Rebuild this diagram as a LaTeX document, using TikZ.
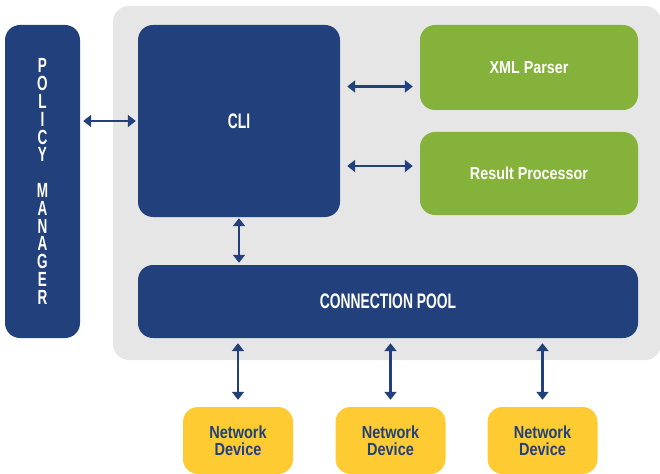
\documentclass[tikz,border=0pt]{standalone}
\usepackage{fontspec}
\usetikzlibrary{arrows.meta}
\newfontfamily\capfont[FakeStretch=0.66]{Liberation Sans}
\newfontfamily\lowfont[FakeStretch=0.83]{Liberation Sans}
\definecolor{navy}{RGB}{34,65,124}
\definecolor{leaf}{RGB}{133,178,58}
\definecolor{sun}{RGB}{254,204,50}
\definecolor{panel}{RGB}{230,230,230}
\begin{document}
\begin{tikzpicture}[x=1pt, y=-1pt,
		box/.style={rounded corners=15pt, inner sep=0pt},
		bluebox/.style={box, fill=navy, text=white, font=\capfont\bfseries\fontsize{21}{22}\selectfont},
		greenbox/.style={box, fill=leaf, text=white, font=\lowfont\bfseries\fontsize{17.3}{18}\selectfont},
		devbox/.style={box, fill=sun, text=navy, align=center, minimum width=110pt, minimum height=67pt, font=\lowfont\bfseries\fontsize{17.5}{16.7}\selectfont},
		link/.style={navy, line width=2.2pt, {Triangle[length=8pt,width=12pt]}-{Triangle[length=8pt,width=12pt]}}]
		\useasboundingbox (0,0) rectangle (660,473);
		\fill[panel, rounded corners=16pt] (113,6) rectangle (661,360);
		% boxes
		\node[bluebox, minimum width=75pt, minimum height=313pt, align=center, font=\capfont\bfseries\fontsize{20.5}{17.8}\selectfont] (policy) at (42.5,181.5) {P\\O\\L\\I\\C\\Y\\[17.8pt]M\\A\\N\\A\\G\\E\\R};
		\node[bluebox, minimum width=202pt, minimum height=192pt] (cli) at (239,121) {CLI};
		\node[greenbox, minimum width=218pt, minimum height=85pt] (xml) at (529,67.5) {XML Parser};
		\node[greenbox, minimum width=218pt, minimum height=83pt] (result) at (529,173.5) {Result Processor};
		\node[bluebox, minimum width=500pt, minimum height=73pt] (pool) at (388,301.5) {CONNECTION POOL};
		\node[devbox] (dev1) at (238,440.5) {Network\\Device};
		\node[devbox] (dev2) at (390.5,440.5) {Network\\Device};
		\node[devbox] (dev3) at (542.5,440.5) {Network\\Device};
		% arrows
		\coordinate (xa) at ([yshift=-19pt]xml.west);
		\coordinate (ra) at ([yshift=7.5pt]result.west);
		\draw[link] ([xshift=3pt]policy.east |- cli.west) -- ([xshift=-2pt]cli.west);
		\draw[link] ([xshift=7pt]cli.east |- xa) -- ([xshift=-7pt]xa);
		\draw[link] ([xshift=7pt]cli.east |- ra) -- ([xshift=-7pt]ra);
		\draw[link] ([yshift=-1pt]cli.south) -- ([yshift=2pt]cli.south |- pool.north);
		\draw[link, shorten <=5pt, shorten >=7pt] (dev1.north |- pool.south) -- (dev1.north);
		\draw[link, shorten <=5pt, shorten >=7pt] (dev2.north |- pool.south) -- (dev2.north);
		\draw[link, shorten <=5pt, shorten >=7pt] (dev3.north |- pool.south) -- (dev3.north);
\end{tikzpicture}
\end{document}
